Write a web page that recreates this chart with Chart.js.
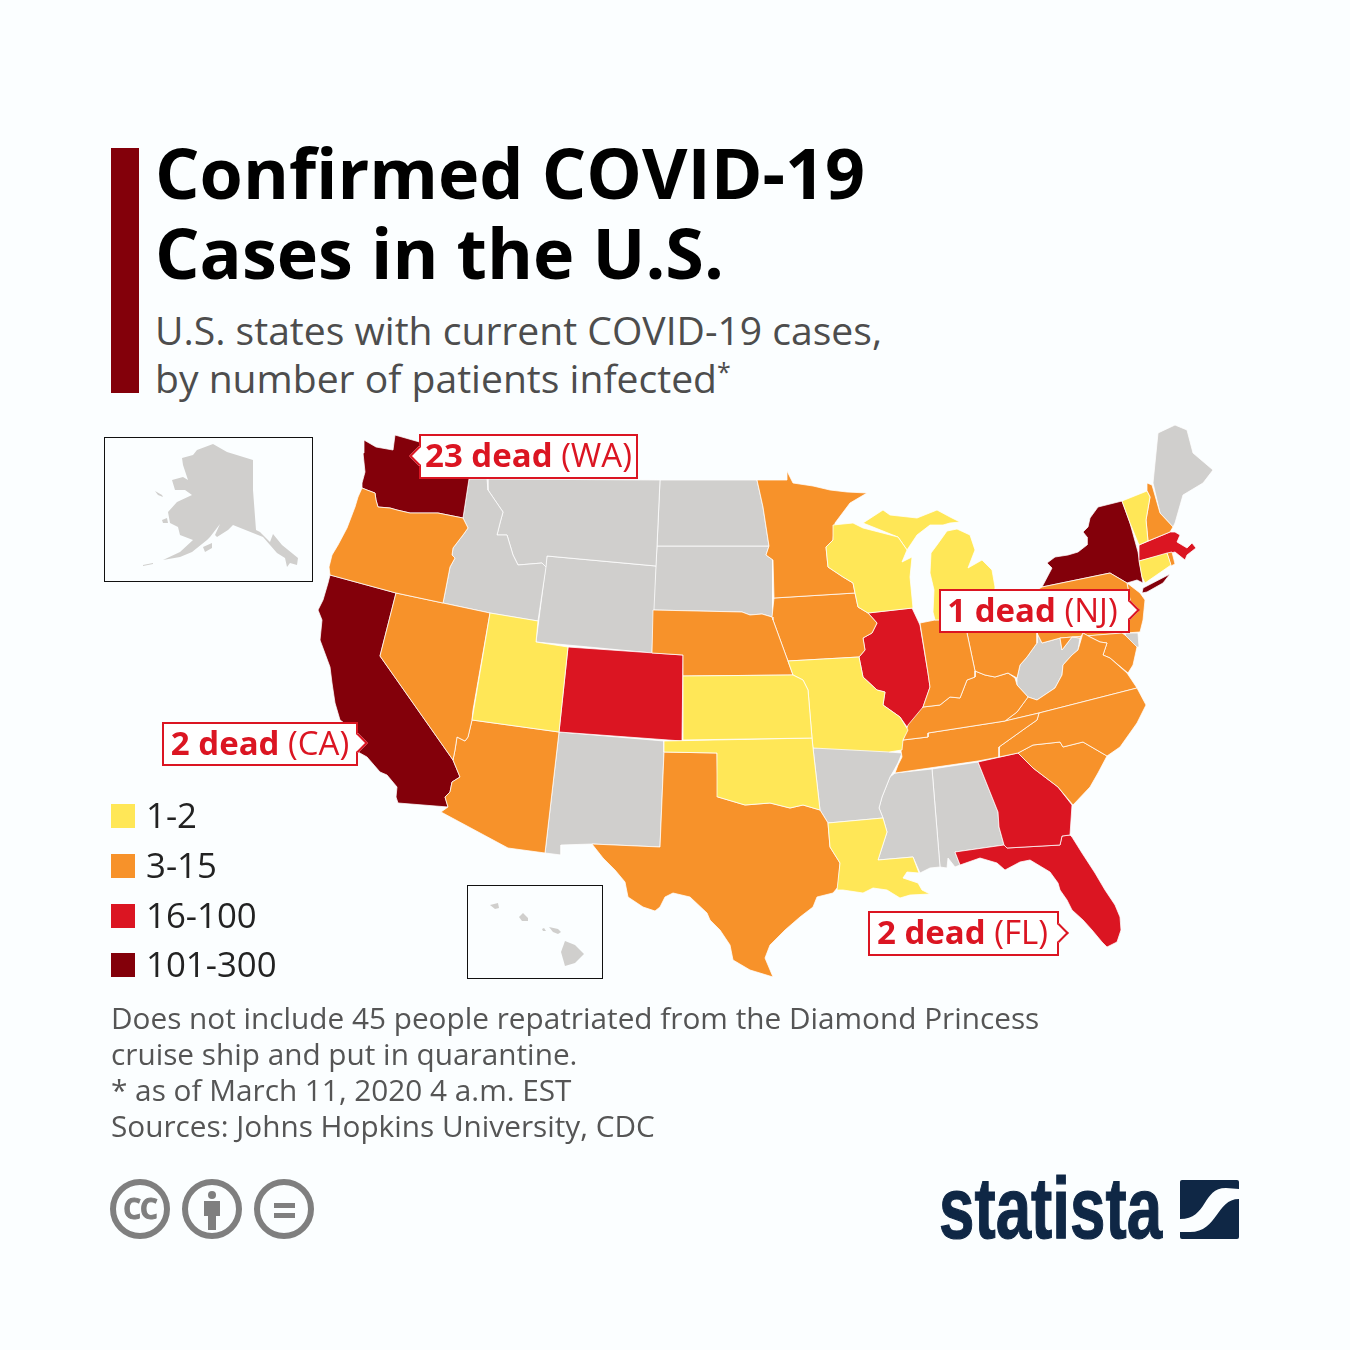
<!DOCTYPE html>
<html>
<head>
<meta charset="utf-8">
<title>Confirmed COVID-19 Cases in the U.S.</title>
<script src="https://cdn.jsdelivr.net/npm/chart.js@4/dist/chart.umd.min.js"></script>
<style>
    html, body { margin: 0; padding: 0; background: #fbfeff; }
    #page { position: relative; width: 1350px; height: 1350px; overflow: hidden; font-family: "Open Sans", sans-serif; }
    #map { position: absolute; left: 0; top: 0; }
    #page > div { position: absolute; white-space: nowrap; }
    .title { left: 155px; font-size: 70px; font-weight: 700; color: #000; line-height: 80px; }
    .sub { left: 155px; font-size: 39.1px; color: #4d4d4d; line-height: 48px; }
    .sub sup { font-size: 25px; line-height: 0; vertical-align: 12px; }
    .note { left: 111px; font-size: 29.75px; color: #555; line-height: 36px; }
    .inset { border: 1px solid #111; box-sizing: border-box; }
    .swatch { left: 111px; width: 24px; height: 24px; }
    .legend { left: 146px; font-size: 34.8px; color: #222; line-height: 40px; }
    .tag { background: #fff; border: 2px solid #db1522; box-sizing: border-box; color: #db1522;
           font-size: 33px; line-height: 38px; text-align: center; }
    .tag b { font-weight: 700; }
    .tag i { position: absolute; top: 50%; width: 14px; height: 14px; margin-top: -8px; background: #fff;
             box-sizing: border-box; transform: rotate(45deg); border: 2px solid #db1522; }
    .tag i.right { right: -9px; border-left: 0; border-bottom: 0; }
    .tag i.left { left: -9px; border-right: 0; border-top: 0; }
    #brand { left: 939px; top: 1163px; font-family: "Liberation Sans", sans-serif; font-weight: 700;
             font-size: 88px; line-height: 90px; color: #0f2745; -webkit-text-stroke: 1.2px #0f2745;
             transform: scaleX(0.724); transform-origin: left top; }
</style>
</head>
<body>
<div id="page">
    <div style="left:111px;top:148px;width:28px;height:245px;background:#83000a"></div>
    <div class="title" style="top:132px">Confirmed COVID-19</div>
    <div class="title" style="top:212px">Cases in the U.S.</div>
    <div class="sub" style="top:306px">U.S. states with current COVID-19 cases,</div>
    <div class="sub" style="top:354px">by number of patients infected<sup>*</sup></div>

    <div class="inset" style="left:104px;top:437px;width:209px;height:145px"></div>
    <div class="inset" style="left:467px;top:885px;width:136px;height:94px"></div>

    <canvas id="map" width="1350" height="1350"></canvas>

    <div class="tag" style="left:419px;top:434px;width:219px;height:45px"><i class="left"></i><b>23 dead</b> (WA)</div>
    <div class="tag" style="left:162px;top:722px;width:196px;height:44px"><b>2 dead</b> (CA)<i class="right"></i></div>
    <div class="tag" style="left:939px;top:589px;width:191px;height:44px;padding-right:4px"><b>1 dead</b> (NJ)<i class="right"></i></div>
    <div class="tag" style="left:868px;top:911px;width:191px;height:45px;padding-right:2px"><b>2 dead</b> (FL)<i class="right"></i></div>

    <div id="legend"></div>

    <div class="note" style="top:1000px">Does not include 45 people repatriated from the Diamond Princess</div>
    <div class="note" style="top:1036px">cruise ship and put in quarantine.</div>
    <div class="note" style="top:1072px">* as of March 11, 2020 4 a.m. EST</div>
    <div class="note" style="top:1108px">Sources: Johns Hopkins University, CDC</div>

    <svg style="position:absolute;left:105px;top:1175px" width="215" height="70" viewBox="105 1175 215 70">
        <g fill="none" stroke="#7f7f7f" stroke-width="6">
            <circle cx="140" cy="1209" r="27"/>
            <circle cx="212" cy="1209" r="27"/>
            <circle cx="284" cy="1209" r="27"/>
        </g>
        <text x="140" y="1219" text-anchor="middle" font-family="Open Sans" font-weight="700" font-size="28" letter-spacing="-1" fill="#7f7f7f" stroke="#7f7f7f" stroke-width="1">CC</text>
        <circle cx="212" cy="1195" r="4" fill="#7f7f7f"/>
        <path d="M204 1201h16v15h-4v14h-8v-14h-4z" fill="#7f7f7f"/>
        <path d="M274 1203h21v5h-21zM274 1213h21v5h-21z" fill="#7f7f7f"/>
    </svg>

    <div id="brand">statista</div>
    <svg style="position:absolute;left:1180px;top:1180px" width="59" height="59" viewBox="0 0 59 59">
        <rect width="59" height="59" rx="2" fill="#0f2745"/>
        <path d="M59 9 L59 19 C36 19 38 52 10 52 L0 52 L0 39 C28 39 22 8 46 8 Z" fill="#fbfeff"/>
    </svg>
</div>

<script>
    // legend classes
    const binLabels = ["1-2", "3-15", "16-100", "101-300"];
    const binColors = ["#ffe757", "#f7922a", "#db1522", "#83000a"];
    const noCasesColor = "#d0cfcd";
    const pageColor = "#fbfeff";

    // which outline belongs to which class
    const bin1 = ["UT", "KS", "OK", "MO", "WI", "MI", "MIU", "LA", "VT", "CT"];
    const bin2 = ["OR", "NV", "AZ", "TX", "MN", "NE", "IA", "IN", "OH", "KY", "TN", "NC", "SC", "VA", "MD", "PA", "NJ", "NH", "RI"];
    const bin3 = ["CO", "IL", "GA", "FL", "MA"];
    const bin4 = ["WA", "CA", "NY", "LI"];
    const noCases = ["ID", "MT", "WY", "ND", "SD", "NM", "AR", "MS", "AL", "WV", "DE", "ME",
        "AK", "AK2", "AK3", "AK4", "AK5", "HI1", "HI2", "HI3", "HI4", "HI5"];
    const water = ["Puget", "Puget2", "Bay", "Chesapeake", "Pamlico", "Pamlico2"];

    // state outlines, x/y
    const outlines = {
        WA: [[364,440],[376,447],[393,450],[395,435],[430,445],[472,455],[469,479],[463,518],[438,513],[427,513],[410,513],[397,510],[390,508],[378,507],[376,500],[375,493],[367,490],[362,488],[362,483],[365,472],[363,453]],
        OR: [[362,488],[367,490],[375,493],[376,500],[378,507],[390,508],[397,510],[410,513],[427,513],[438,513],[463,518],[468,528],[463,535],[453,548],[452,555],[455,558],[450,567],[443,603],[396,593],[330,575],[329,567],[332,555],[338,545],[347,528],[355,507],[358,497]],
        CA: [[330,575],[396,593],[380,656],[453,760],[460,777],[452,782],[450,792],[445,797],[448,807],[398,803],[396,797],[397,787],[387,775],[380,772],[367,757],[358,752],[355,742],[347,725],[340,720],[335,703],[332,683],[330,667],[320,640],[322,620],[318,610],[323,600],[328,583]],
        NV: [[396,593],[443,603],[490,613],[473,710],[472,720],[468,737],[465,741],[457,737],[455,750],[453,760],[380,656]],
        ID: [[469,479],[487,479],[488,490],[503,512],[500,523],[497,535],[507,535],[513,555],[518,565],[542,563],[546,567],[538,621],[490,613],[443,603],[450,567],[455,558],[452,555],[453,548],[463,535],[468,528],[463,518]],
        MT: [[487,479],[660,480],[657,546],[656,566],[547,556],[546,567],[542,563],[518,565],[513,555],[507,535],[497,535],[500,523],[503,512],[488,490]],
        WY: [[547,556],[656,566],[652,653],[536,642]],
        UT: [[490,613],[538,621],[536,642],[568,647],[559,732],[472,720]],
        CO: [[568,647],[683,655],[682,741],[559,732]],
        AZ: [[472,720],[559,732],[545,853],[508,848],[441,812],[448,807],[445,797],[450,792],[452,782],[460,777],[453,760],[455,750],[457,737],[465,741],[468,737]],
        NM: [[559,732],[664,741],[664,752],[660,847],[592,844],[561,845],[561,855],[545,853]],
        ND: [[660,480],[757,480],[763,507],[769,546],[657,546]],
        SD: [[657,546],[769,546],[766,555],[773,560],[773,598],[772,617],[762,614],[750,615],[742,612],[653,610]],
        NE: [[653,610],[742,612],[750,615],[762,614],[772,617],[773,620],[785,653],[793,675],[683,676],[683,655],[652,653]],
        KS: [[683,676],[793,675],[803,680],[808,690],[812,738],[683,740]],
        OK: [[664,741],[812,738],[813,748],[820,810],[803,805],[790,808],[770,803],[745,805],[718,797],[717,753],[664,752]],
        TX: [[664,752],[717,753],[718,797],[745,805],[770,803],[790,808],[803,805],[820,810],[828,823],[830,847],[840,863],[838,887],[833,893],[817,897],[813,907],[800,917],[785,930],[770,945],[765,958],[773,977],[750,970],[733,960],[730,945],[720,930],[710,920],[707,913],[690,897],[673,893],[665,897],[660,907],[655,911],[643,907],[628,897],[625,882],[615,870],[603,858],[592,844],[660,847]],
        MN: [[757,480],[787,480],[787,471],[793,483],[813,486],[830,490],[847,492],[867,493],[850,503],[835,523],[833,540],[826,547],[828,567],[843,577],[853,583],[855,593],[774,598],[773,560],[766,555],[769,546],[763,507]],
        IA: [[774,598],[855,593],[858,607],[868,613],[877,623],[872,633],[863,638],[865,650],[859,657],[788,661],[785,653],[773,620],[772,617]],
        MO: [[788,661],[859,657],[861,667],[863,677],[877,690],[885,692],[883,705],[900,717],[908,730],[903,740],[902,750],[889,752],[813,748],[812,738],[808,690],[803,680],[793,675]],
        AR: [[813,748],[893,742],[889,752],[902,753],[898,763],[893,772],[890,777],[882,797],[879,808],[883,818],[828,823],[820,810]],
        LA: [[828,823],[883,818],[887,832],[878,860],[913,857],[919,873],[907,872],[903,878],[918,883],[922,890],[930,894],[910,895],[900,898],[887,890],[873,888],[863,893],[843,890],[837,890],[840,863],[830,847]],
        MS: [[895,773],[932,769],[940,867],[930,868],[920,873],[913,857],[878,860],[887,832],[883,818],[879,808],[882,797],[890,777]],
        AL: [[932,769],[978,762],[998,812],[999,827],[1004,845],[955,852],[960,865],[955,867],[948,858],[947,868],[940,867]],
        GA: [[978,762],[1018,753],[1033,768],[1058,787],[1072,805],[1070,835],[1062,836],[1060,845],[1007,848],[1004,845],[999,827],[998,812]],
        FL: [[955,852],[1004,845],[1007,848],[1060,845],[1062,836],[1070,835],[1072,837],[1082,853],[1095,873],[1105,890],[1115,905],[1120,917],[1121,930],[1117,942],[1107,947],[1102,942],[1092,930],[1083,920],[1072,910],[1067,900],[1060,890],[1058,883],[1050,872],[1030,860],[1020,862],[1005,870],[997,863],[980,858],[960,865]],
        SC: [[1018,753],[1033,745],[1060,742],[1063,747],[1083,742],[1107,756],[1098,773],[1090,787],[1073,805],[1058,787],[1033,768]],
        NC: [[1039,713],[1137,688],[1146,705],[1137,723],[1120,747],[1107,756],[1083,742],[1063,747],[1060,742],[1033,745],[1018,753],[999,757],[999,747],[1013,737],[1027,727],[1037,720]],
        TN: [[903,740],[928,737],[928,733],[1005,721],[1039,713],[1037,720],[1027,727],[1013,737],[999,747],[999,757],[978,761],[895,773],[898,765],[902,757],[900,745]],
        KY: [[903,740],[908,725],[923,707],[940,705],[950,697],[960,698],[967,680],[975,677],[975,671],[985,675],[995,677],[1008,673],[1015,678],[1017,685],[1028,697],[1017,712],[1005,721],[928,733],[928,737]],
        IL: [[868,613],[912,608],[920,625],[928,673],[930,687],[923,707],[923,715],[918,723],[907,727],[900,717],[883,705],[885,692],[877,690],[863,677],[861,667],[859,657],[865,650],[863,638],[872,633],[877,623]],
        IN: [[920,623],[935,620],[967,617],[967,633],[975,671],[975,677],[967,680],[960,698],[950,697],[940,705],[923,707],[930,687],[928,673]],
        OH: [[967,617],[1037,600],[1037,633],[1037,643],[1027,657],[1020,665],[1017,678],[1008,673],[995,677],[985,675],[975,671],[967,633]],
        WV: [[1017,678],[1020,665],[1027,657],[1037,643],[1037,633],[1042,643],[1060,638],[1062,650],[1072,637],[1080,638],[1078,650],[1072,655],[1063,665],[1062,675],[1055,688],[1037,700],[1028,697],[1017,685]],
        VA: [[1005,721],[1017,712],[1028,697],[1037,700],[1055,688],[1062,675],[1063,665],[1072,655],[1078,650],[1083,633],[1090,637],[1100,642],[1107,643],[1103,655],[1110,658],[1127,673],[1137,688],[1039,713]],
        MD: [[1060,638],[1122,633],[1125,635],[1137,647],[1133,665],[1128,673],[1110,658],[1103,655],[1107,643],[1100,642],[1090,637],[1083,633],[1080,638],[1072,637],[1062,650]],
        DE: [[1125,633],[1138,633],[1139,647],[1128,647]],
        PA: [[1037,590],[1042,587],[1110,573],[1127,583],[1130,600],[1125,633],[1060,638],[1042,643],[1037,633]],
        NJ: [[1127,583],[1140,593],[1145,600],[1143,620],[1140,632],[1125,633],[1130,600]],
        NY: [[1122,501],[1098,507],[1090,518],[1088,527],[1083,532],[1087,537],[1087,545],[1078,552],[1068,555],[1055,557],[1047,563],[1052,568],[1042,587],[1110,573],[1127,583],[1137,580],[1143,583],[1142,577],[1138,552],[1130,523]],
        LI: [[1142,593],[1143,588],[1170,574],[1163,583],[1147,592]],
        VT: [[1122,501],[1147,491],[1150,497],[1146,520],[1148,541],[1139,545],[1130,523]],
        NH: [[1147,483],[1152,485],[1160,513],[1173,527],[1170,532],[1148,541],[1146,520],[1150,497],[1147,491]],
        ME: [[1153,483],[1158,433],[1175,425],[1187,430],[1193,453],[1213,470],[1203,483],[1183,495],[1175,523],[1173,527],[1160,513]],
        MA: [[1139,545],[1170,532],[1175,532],[1180,535],[1177,542],[1187,548],[1192,543],[1196,548],[1187,555],[1185,560],[1175,552],[1139,561]],
        CT: [[1139,561],[1167,553],[1171,565],[1145,583],[1142,577]],
        RI: [[1167,553],[1172,552],[1175,564],[1171,566]],
        WI: [[833,525],[853,523],[863,528],[898,537],[907,550],[902,562],[912,557],[910,577],[913,608],[868,613],[858,607],[855,593],[853,583],[843,577],[828,567],[826,547],[833,540]],
        MIU: [[863,523],[883,510],[890,515],[917,518],[937,510],[950,517],[960,522],[950,523],[943,525],[930,525],[917,535],[907,550],[898,537]],
        MI: [[947,531],[957,529],[970,535],[975,550],[968,568],[982,560],[992,570],[995,587],[992,620],[935,620],[933,612],[934,590],[930,573],[931,553],[937,545]],
        AK: [[182,458],[193,455],[197,450],[213,444],[227,452],[253,460],[253,490],[256,530],[260,532],[270,542],[273,534],[282,545],[298,558],[297,565],[290,563],[287,567],[285,558],[277,553],[263,537],[253,533],[233,525],[228,530],[217,537],[215,535],[220,524],[210,537],[207,540],[192,552],[180,557],[163,560],[180,552],[193,540],[180,535],[178,527],[170,523],[168,512],[177,502],[192,495],[185,490],[175,490],[172,480],[183,477],[188,480],[183,465]],
        AK2: [[155,491],[162,495],[163,497],[158,495]],
        AK3: [[162,520],[167,518],[168,523],[163,523]],
        AK4: [[203,547],[212,543],[212,548],[205,552]],
        AK5: [[143,565],[153,563],[153,564],[143,566]],
        HI1: [[490,905],[498,903],[499,908],[495,909]],
        HI2: [[519,917],[523,913],[528,918],[528,921],[522,921]],
        HI3: [[542,929],[544,928],[546,931],[543,931]],
        HI4: [[549,927],[558,929],[561,932],[558,934],[553,932]],
        HI5: [[565,941],[575,945],[584,954],[575,963],[565,966],[561,952]],
        Puget: [[382,473],[385,468],[381,465],[388,460],[393,458],[392,465],[390,472],[383,475]],
        Puget2: [[396,438],[398,450],[392,456],[394,449]],
        Bay: [[333,665],[350,669],[337,668],[336,679],[332,675]],
        Chesapeake: [[1113,636],[1127,640],[1124,652],[1127,670],[1122,670],[1117,660],[1120,650]],
        Pamlico: [[1125,715],[1138,715],[1137,723],[1130,718]],
        Pamlico2: [[1127,698],[1138,702],[1133,705]],
    };

    function stateDataset(name, color, hasBorder) {
        const points = outlines[name].map(([x, y]) => ({ x: x, y: y }));
        points.push(points[0]); // close the shape
        return {
            label: name,
            data: points,
            showLine: true,
            fill: "shape",
            tension: 0,
            pointRadius: 0,
            backgroundColor: color,
            borderColor: hasBorder ? "rgba(255, 255, 255, 0.75)" : color,
            borderWidth: hasBorder ? 1 : 0,
        };
    }

    const datasets = [];
    [bin1, bin2, bin3, bin4].forEach((bin, i) => {
        bin.forEach(name => datasets.push(stateDataset(name, binColors[i], true)));
    });
    noCases.forEach(name => datasets.push(stateDataset(name, noCasesColor, !/^(AK|HI)/.test(name))));
    water.forEach(name => datasets.push(stateDataset(name, pageColor, false)));

    new Chart(document.getElementById("map"), {
        type: "scatter",
        data: { datasets: datasets },
        options: {
            responsive: false,
            animation: false,
            events: [],
            layout: { padding: 0 },
            scales: {
                x: { type: "linear", min: 0, max: 1350, display: false },
                y: { type: "linear", min: 0, max: 1350, reverse: true, display: false },
            },
            plugins: {
                legend: { display: false },
                tooltip: { enabled: false },
            },
        },
    });

    // legend beside the map
    const legendTops = [804, 854, 904, 953];
    const page = document.getElementById("page");
    binLabels.forEach((label, i) => {
        const swatch = document.createElement("div");
        swatch.className = "swatch";
        swatch.style.top = legendTops[i] + "px";
        swatch.style.background = binColors[i];
        page.appendChild(swatch);
        const text = document.createElement("div");
        text.className = "legend";
        text.style.top = (legendTops[i] - 9) + "px";
        text.textContent = label;
        page.appendChild(text);
    });
</script>
</body>
</html>
